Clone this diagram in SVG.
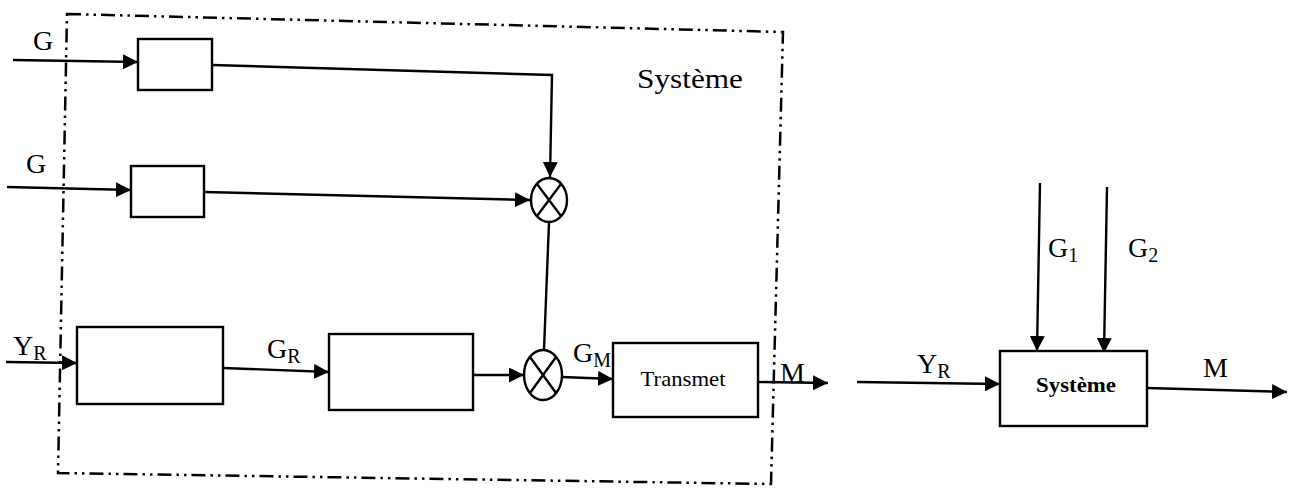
<svg xmlns="http://www.w3.org/2000/svg" width="1297" height="489" viewBox="0 0 1297 489">
<style>
.ln{stroke:#000;stroke-width:2.4;fill:none}
.bx{stroke:#000;stroke-width:2.4;fill:#fff}
.bd{stroke:#000;stroke-width:2.5;fill:none;stroke-dasharray:14 5 2.5 5 2.5 5}
.t{font-family:"Liberation Serif",serif;fill:#000}
.lb{font-size:28px}
.sb{font-size:20px}
</style>
<defs>
<marker id="ah" viewBox="0 0 15 15" refX="15" refY="7.5" markerWidth="15" markerHeight="15" markerUnits="userSpaceOnUse" orient="auto">
<path d="M0,0 L15,7.5 L0,15 Z" fill="#000"/>
</marker>
</defs>
<rect width="1297" height="489" fill="#fff"/>
<polygon id="border" class="bd" points="67,14 783,32 771,484 58,473"/>
<g id="connectors">
<line class="ln" x1="13" y1="60" x2="138" y2="62" marker-end="url(#ah)"/>
<polyline class="ln" points="212,65 552,75 550,177" marker-end="url(#ah)"/>
<line class="ln" x1="7" y1="187" x2="131" y2="190" marker-end="url(#ah)"/>
<line class="ln" x1="204" y1="192" x2="530" y2="200" marker-end="url(#ah)"/>
<line class="ln" x1="549" y1="222" x2="544" y2="350"/>
<line class="ln" x1="6" y1="362" x2="77" y2="363" marker-end="url(#ah)"/>
<line class="ln" x1="223" y1="368" x2="329" y2="372" marker-end="url(#ah)"/>
<line class="ln" x1="473" y1="375" x2="524" y2="375" marker-end="url(#ah)"/>
<line class="ln" x1="562" y1="377" x2="613" y2="379" marker-end="url(#ah)"/>
<line class="ln" x1="758" y1="382" x2="828" y2="383" marker-end="url(#ah)"/>
<line class="ln" x1="1040" y1="183" x2="1037" y2="351" marker-end="url(#ah)"/>
<line class="ln" x1="1107" y1="187" x2="1104" y2="353" marker-end="url(#ah)"/>
<line class="ln" x1="857" y1="382" x2="1000" y2="384" marker-end="url(#ah)"/>
<line class="ln" x1="1147" y1="388" x2="1287" y2="392" marker-end="url(#ah)"/>
</g>
<g id="box1"><rect class="bx" x="138" y="39" width="74" height="51"/></g>
<g id="box2"><rect class="bx" x="131" y="166" width="73" height="51"/></g>
<g id="box3"><rect class="bx" x="77" y="327" width="146" height="77"/></g>
<g id="box4"><rect class="bx" x="329" y="334" width="144" height="76"/></g>
<g id="mult1"><ellipse class="bx" cx="549" cy="200" rx="18" ry="22" stroke-width="3"/><path class="ln" d="M537,184 L561,216 M561,184 L537,216" stroke-width="3"/></g>
<g id="mult2"><ellipse class="bx" cx="543" cy="375" rx="19" ry="25" stroke-width="3"/><path class="ln" d="M530,357 L556,393 M556,357 L530,393" stroke-width="3"/></g>
<g id="transmet"><rect class="bx" x="613" y="343" width="145" height="74"/><text class="t" x="683" y="386" font-size="21" text-anchor="middle" textLength="85" lengthAdjust="spacingAndGlyphs">Transmet</text></g>
<g id="systeme2"><rect class="bx" x="1000" y="351" width="147" height="75" stroke-width="2.8"/><text class="t" x="1076" y="392" font-size="21" font-weight="bold" text-anchor="middle" textLength="80" lengthAdjust="spacingAndGlyphs">Système</text></g>
<g id="labels">
<text class="t lb" x="33" y="50">G</text>
<text class="t lb" x="26" y="173">G</text>
<text class="t lb" x="13" y="355">Y<tspan class="sb" dy="5">R</tspan></text>
<text class="t lb" x="267" y="358">G<tspan class="sb" dy="5">R</tspan></text>
<text class="t lb" x="573" y="362">G<tspan class="sb" dy="5">M</tspan></text>
<text class="t lb" x="780" y="382">M</text>
<text class="t" x="637" y="88" font-size="28" textLength="106" lengthAdjust="spacingAndGlyphs">Système</text>
<text class="t lb" x="1048" y="257">G<tspan class="sb" dy="5">1</tspan></text>
<text class="t lb" x="1128" y="257">G<tspan class="sb" dy="5">2</tspan></text>
<text class="t lb" x="917" y="373">Y<tspan class="sb" dy="5">R</tspan></text>
<text class="t lb" x="1203" y="377">M</text>
</g>
</svg>
